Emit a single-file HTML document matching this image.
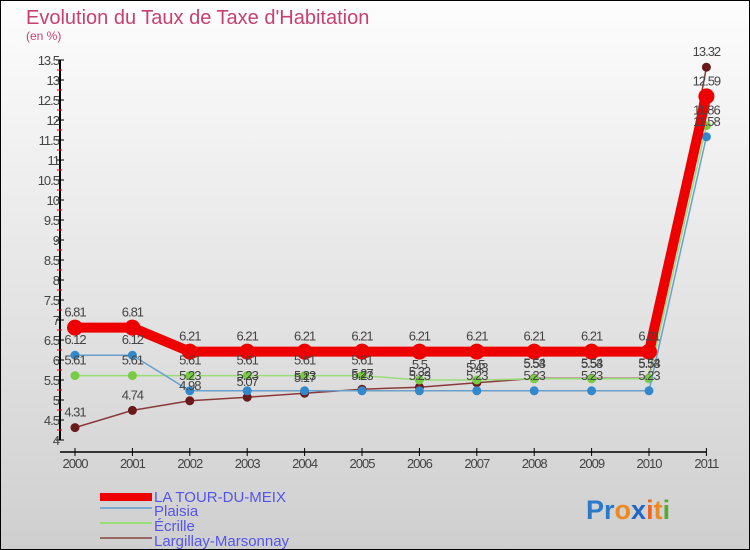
<!DOCTYPE html>
<html><head><meta charset="utf-8"><style>
body{margin:0;width:750px;height:550px;overflow:hidden;font-family:"Liberation Sans",sans-serif}
svg{display:block}
</style></head><body>
<svg id="c" width="750" height="550" xmlns="http://www.w3.org/2000/svg">
<defs><linearGradient id="bg" x1="0" y1="0" x2="0" y2="1"><stop offset="0" stop-color="#fdfdfd"/><stop offset="1" stop-color="#cfcfcf"/></linearGradient></defs>
<rect x="0.5" y="0.5" width="749" height="549" fill="url(#bg)" stroke="#000"/>
<text x="26" y="24" font-size="20" fill="#c8406e">Evolution du Taux de Taxe d'Habitation</text>
<text x="26" y="40" font-size="12" fill="#c8406e">(en %)</text>
<g id="axes"></g><g id="series"></g><g id="labels"></g>
<g>
<rect x="100" y="493" width="52" height="8" fill="#e00"/>
<text x="154" y="502" font-size="15" fill="#5555ee">LA TOUR-DU-MEIX</text>
<rect x="100" y="507" width="52" height="2" fill="#7aaad0"/>
<text x="154" y="516" font-size="15" fill="#5555ee">Plaisia</text>
<rect x="100" y="522" width="52" height="2" fill="#99dd77"/>
<text x="154" y="531" font-size="15" fill="#5555ee">Écrille</text>
<rect x="100" y="537" width="52" height="2" fill="#996666"/>
<text x="154" y="546" font-size="15" fill="#5555ee">Largillay-Marsonnay</text>
</g>
<text x="586" y="519" font-size="27" font-weight="bold"><tspan fill="#2a7acc">Pr</tspan><tspan fill="#ee8822">o</tspan><tspan fill="#2266cc">x</tspan><tspan fill="#ee6622">i</tspan><tspan fill="#ee8822">t</tspan><tspan fill="#55aa33">i</tspan></text>
</svg>
<script>
const years=["2000","2001","2002","2003","2004","2005","2006","2007","2008","2009","2010","2011"];
const tour=[6.81,6.81,6.21,6.21,6.21,6.21,6.21,6.21,6.21,6.21,6.21,12.59];
const plaisia=[6.12,6.12,5.23,5.23,5.23,5.23,5.23,5.23,5.23,5.23,5.23,11.58];
const ecrille=[5.61,5.61,5.61,5.61,5.61,5.61,5.5,5.5,5.53,5.53,5.53,11.86];
const largillay=[4.31,4.74,4.98,5.07,5.17,5.27,5.32,5.43,5.54,5.54,5.54,13.32];
const yTicks=[4,4.5,5,5.5,6,6.5,7,7.5,8,8.5,9,9.5,10,10.5,11,11.5,12,12.5,13,13.5];
const NS="http://www.w3.org/2000/svg";
const X=i=>75+i*57.4, Y=v=>440-(v-4)*40;
function mk(p,t,a){const e=document.createElementNS(NS,t);for(const k in a)e.setAttribute(k,a[k]);p.appendChild(e);return e;}
const ax=document.getElementById('axes');
let e=mk(ax,'line',{x1:60,y1:Y(13.5),x2:60,y2:Y(4),stroke:'#000','stroke-width':2});


e=mk(ax,'line',{x1:60,y1:452,x2:X(11),y2:452,stroke:'#000','stroke-width':1.5});


yTicks.forEach(v=>{
 mk(ax,'line',{x1:56,y1:Y(v),x2:64,y2:Y(v),stroke:'#000'});
 if(v<13.5) mk(ax,'line',{x1:57,y1:Y(v+0.25),x2:62,y2:Y(v+0.25),stroke:'#e00'});
 const t=mk(ax,'text',{x:59,y:Y(v)+5,'font-size':13,'text-anchor':'end',fill:'#444','letter-spacing':'-1'});
 t.textContent=String(v);
 
 
});
years.forEach((y,i)=>{
 mk(ax,'line',{x1:X(i),y1:448,x2:X(i),y2:456,stroke:'#000'});
 const t=mk(ax,'text',{x:X(i),y:468,'font-size':13,'text-anchor':'middle',fill:'#444','letter-spacing':'-1'});
 t.textContent=y;
 
 
});
const sg=document.getElementById('series'),lg=document.getElementById('labels');
function series(arr,name,col,dot,w,r){
 const pl=mk(sg,'polyline',{points:arr.map((v,i)=>X(i)+','+Y(v)).join(' '),fill:'none',stroke:col,'stroke-width':w});
 
 
 arr.forEach((v,i)=>{
  const c=mk(sg,'circle',{cx:X(i),cy:Y(v),r:r,fill:dot});
  
  
  const t=mk(lg,'text',{x:X(i),y:Y(v)-11,'font-size':13,'text-anchor':'middle',fill:'#444','letter-spacing':'-1'});
  t.textContent=String(v);
  
  
 });
}
series(largillay,'largillay','#8a3a3a','#6a1a1a',1.5,4.5);
series(ecrille,'ecrille','#99dd77','#77cc44',1.5,4.5);
series(plaisia,'plaisia','#6aa0cc','#3388cc',1.5,4.5);
series(tour,'la-tour-du-meix','#ee0000','#ee0000',10,8);
</script>
</body></html>
